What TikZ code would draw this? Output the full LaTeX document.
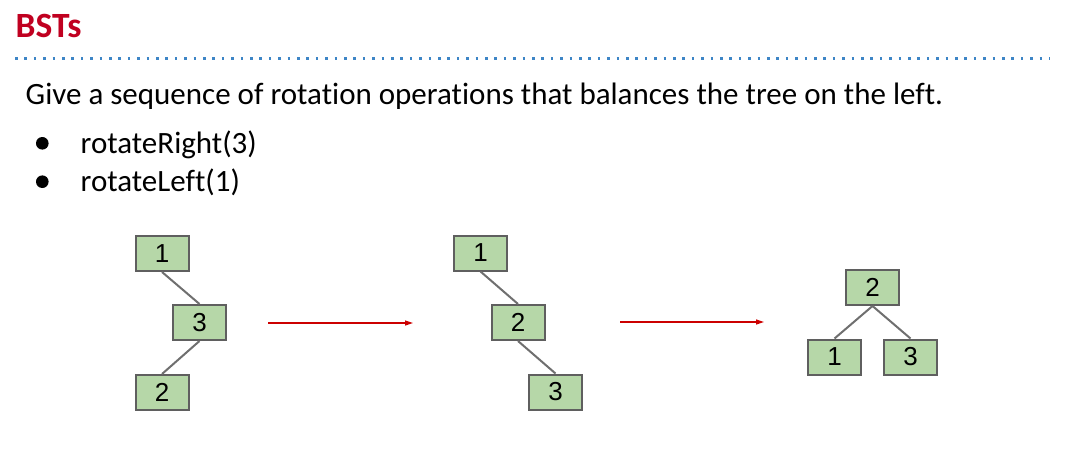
\documentclass[tikz,border=0pt]{standalone}
\usepackage{fontspec}
\setmainfont{Carlito}[Ligatures={NoCommon}]
\newfontfamily\arialf{Liberation Sans}
\usetikzlibrary{arrows.meta}
\definecolor{titlered}{RGB}{192,0,32}
\definecolor{dotblue}{RGB}{61,133,198}
\definecolor{boxgreen}{RGB}{182,215,168}
\definecolor{boxgray}{RGB}{95,95,95}
\definecolor{arrowred}{RGB}{204,0,0}
\tikzset{
  treebox/.style={draw=boxgray, fill=boxgreen, line width=2pt, minimum width=53pt, minimum height=35pt, inner sep=0pt, font=\arialf\fontsize{26}{28}\selectfont},
  treeedge/.style={draw=boxgray!90, line width=2pt},
  steparrow/.style={draw=arrowred, line width=1.2pt, -{Triangle[length=8pt,width=5pt]}},
  txt/.style={anchor=base west, inner sep=0pt},
  bodyfont/.style={font=\fontsize{31}{36}\selectfont},
}
\begin{document}
\begin{tikzpicture}[x=1pt,y=-1pt]
\useasboundingbox (0,0) rectangle (1081,469);
% title
\node[txt, text=titlered, font=\bfseries\fontsize{35.5}{40}\selectfont] (title) at (15.5,37.7) {BSTs};
\draw[dotblue, line width=2.5pt, dash pattern=on 2.5pt off 6.9pt] (15,58.3) -- (1050,58.3);
% body
\node[txt, bodyfont] (q) at (25.5,104.3) {Give a sequence of rotation operations that balances the tree on the left.};
\fill (42.3,143.3) circle (6.3);
\fill (42.3,181.7) circle (6.3);
\node[txt, bodyfont] (b1) at (80.5,153.3) {rotateRight(3)};
\node[txt, bodyfont] (b2) at (80.5,191.7) {rotateLeft(1)};
% left tree
\node[treebox] (a1) at (162,253.5) {1};
\node[treebox] (a3) at (199.5,322.5) {3};
\node[treebox] (a2) at (162,392.5) {2};
\draw[treeedge] (a1.south) -- (a3.north);
\draw[treeedge] (a3.south) -- (a2.north);
% arrow 1
\coordinate (s1) at (268,323);
\coordinate (e1) at (413,323);
\draw[steparrow] (s1) -- (e1);
% middle tree
\node[treebox] (m1) at (480.5,253) {1};
\node[treebox] (m2) at (518,322.5) {2};
\node[treebox] (m3) at (555.5,392) {3};
\draw[treeedge] (m1.south) -- (m2.north);
\draw[treeedge] (m2.south) -- (m3.north);
% arrow 2
\coordinate (s2) at (620,322);
\coordinate (e2) at (764,322);
\draw[steparrow] (s2) -- (e2);
% right tree
\node[treebox] (r2) at (872.5,287.5) {2};
\node[treebox] (r1) at (834.5,357) {1};
\node[treebox] (r3) at (910.5,357) {3};
\draw[treeedge] (r2.south) -- (r1.north);
\draw[treeedge] (r2.south) -- (r3.north);
\end{tikzpicture}
\end{document}
